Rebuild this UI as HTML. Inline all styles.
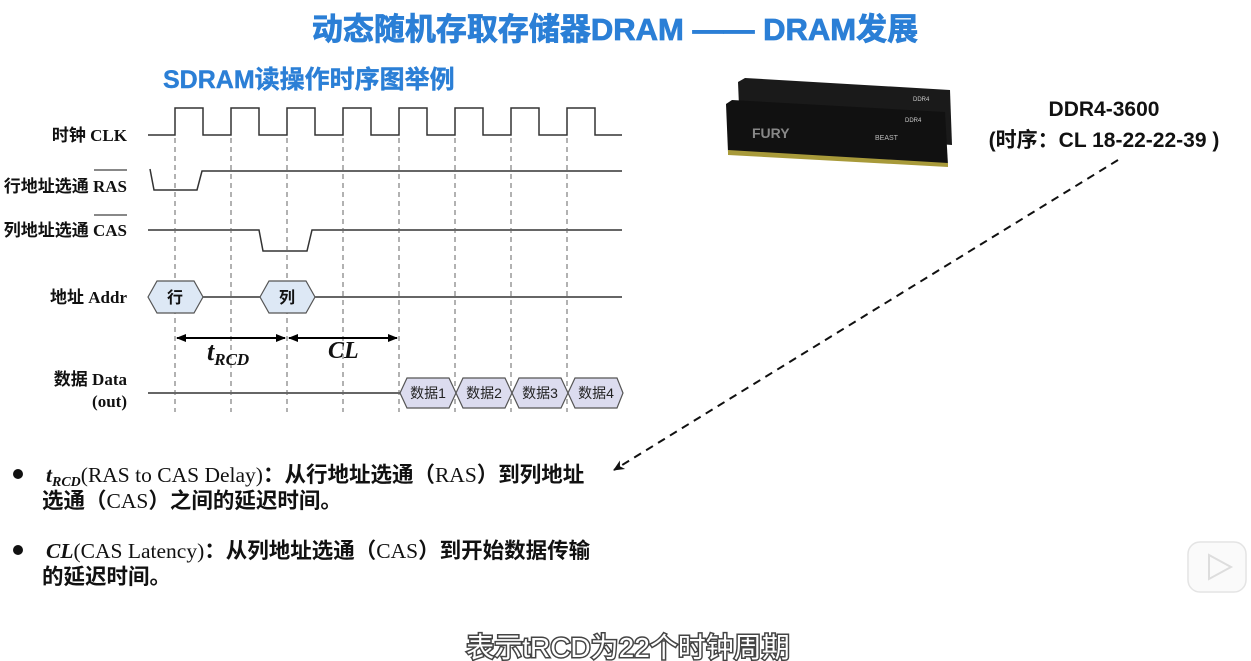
<!DOCTYPE html>
<html><head><meta charset="utf-8"><style>
html,body{margin:0;padding:0;background:#fff;}
body{width:1251px;height:661px;overflow:hidden;position:relative;font-family:"Liberation Sans","Noto Sans CJK SC",sans-serif;}
</style></head><body>
<svg width="1251" height="661" viewBox="0 0 1251 661" xmlns="http://www.w3.org/2000/svg" style="position:absolute;left:0;top:0">
<defs>
<marker id="ah" markerWidth="10" markerHeight="10" refX="9" refY="5" orient="auto" markerUnits="userSpaceOnUse"><path d="M0,1 L10,5 L0,9 Z" fill="#000"/></marker>
<marker id="ah2" markerWidth="12" markerHeight="12" refX="10" refY="6" orient="auto" markerUnits="userSpaceOnUse"><path d="M0,1 L11,6 L0,11 L3,6 Z" fill="#111"/></marker>
</defs>
<text x="615" y="40" text-anchor="middle" font-size="31" font-weight="bold" fill="#2b7fd6" stroke="#2b7fd6" stroke-width="0.8" font-family="Liberation Sans,Noto Sans CJK SC,sans-serif">动态随机存取存储器DRAM —— DRAM发展</text>
<text x="163" y="88" font-size="25" font-weight="bold" fill="#2b7fd6" stroke="#2b7fd6" stroke-width="0.4" font-family="Liberation Sans,Noto Sans CJK SC,sans-serif">SDRAM读操作时序图举例</text>

<g font-family="Liberation Serif,Noto Sans CJK SC,serif" font-weight="bold" font-size="17" fill="#111" text-anchor="end">
<text x="127" y="141">时钟 CLK</text>
<text x="127" y="192">行地址选通 RAS</text>
<text x="127" y="236">列地址选通 CAS</text>
<text x="127" y="303">地址 Addr</text>
<text x="127" y="385">数据 Data</text>
<text x="127" y="407">(out)</text>
</g>
<line x1="94" y1="170" x2="127" y2="170" stroke="#111" stroke-width="1"/>
<line x1="94" y1="215" x2="127" y2="215" stroke="#111" stroke-width="1"/>

<g stroke="#333" stroke-width="1.5" fill="none">
<path d="M148,135 H175 V108 H203 V135 H231 V108 H259 V135 H287 V108 H315 V135 H343 V108 H371 V135 H399 V108 H427 V135 H455 V108 H483 V135 H511 V108 H539 V135 H567 V108 H595 V135 H622"/>
<path d="M150,169 L154,190 H197 L202,171 H622"/>
<path d="M148,230 H259 L263,251 H307 L312,230 H622"/>
<path d="M203,297 H260 M315,297 H622"/>
<path d="M148,393 H400"/>
</g>
<g stroke="#666" stroke-width="1" stroke-dasharray="5,4">
<line x1="175" y1="138" x2="175" y2="412"/><line x1="231" y1="138" x2="231" y2="412"/>
<line x1="287" y1="138" x2="287" y2="412"/><line x1="343" y1="138" x2="343" y2="412"/>
<line x1="399" y1="138" x2="399" y2="412"/><line x1="455" y1="138" x2="455" y2="412"/>
<line x1="511" y1="138" x2="511" y2="412"/><line x1="567" y1="138" x2="567" y2="412"/>
</g>
<g stroke="#555" stroke-width="1.2" fill="#dde8f5">
<polygon points="148,297 157,281 194,281 203,297 194,313 157,313"/>
<polygon points="260,297 269,281 306,281 315,297 306,313 269,313"/>
</g>
<g font-size="16" font-weight="bold" fill="#111" text-anchor="middle" font-family="Noto Sans CJK SC,sans-serif">
<text x="175" y="303">行</text><text x="287" y="303">列</text>
</g>
<g stroke="#555" stroke-width="1.2" fill="#dcdcef">
<polygon points="400,393 407,378 449,378 456,393 449,408 407,408"/>
<polygon points="456,393 463,378 505,378 512,393 505,408 463,408"/>
<polygon points="512,393 519,378 561,378 568,393 561,408 519,408"/>
<polygon points="568,393 575,378 617,378 623,393 617,408 575,408"/>
</g>
<g font-size="14" fill="#222" text-anchor="middle" font-family="Liberation Sans,Noto Sans CJK SC,sans-serif">
<text x="428" y="398">数据1</text><text x="484" y="398">数据2</text><text x="540" y="398">数据3</text><text x="596" y="398">数据4</text>
</g>
<g stroke="#000" stroke-width="2">
<line x1="185" y1="338" x2="285" y2="338" marker-end="url(#ah)"/>
<line x1="277" y1="338" x2="177" y2="338" marker-end="url(#ah)"/>
<line x1="297" y1="338" x2="397" y2="338" marker-end="url(#ah)"/>
<line x1="389" y1="338" x2="289" y2="338" marker-end="url(#ah)"/>
</g>
<text x="207" y="360" font-family="Liberation Serif,serif" font-style="italic" font-weight="bold" font-size="26" fill="#111">t<tspan font-size="17" dy="5">RCD</tspan></text>
<text x="328" y="358" font-family="Liberation Serif,serif" font-style="italic" font-weight="bold" font-size="24" fill="#111">CL</text>

<!-- RAM sticks -->
<g>
<path d="M738,82 L745,78 L950,90 L952,145 L740,130 Z" fill="#1a1a1a"/>
<path d="M726,104 L732,100 L945,112 L948,165 L728,152 Z" fill="#111"/>
<path d="M728,150 L948,163 L948,167 L728,155 Z" fill="#a89a3a"/>
<text x="752" y="138" font-size="14" font-weight="bold" fill="#888" font-family="Liberation Sans,sans-serif">FURY</text>
<text x="875" y="140" font-size="7" fill="#bbb" font-family="Liberation Sans,sans-serif">BEAST</text>
<text x="905" y="122" font-size="6" fill="#ccc" font-family="Liberation Sans,sans-serif">DDR4</text>
<text x="913" y="101" font-size="6" fill="#ccc" font-family="Liberation Sans,sans-serif">DDR4</text>
</g>
<g font-family="Liberation Sans,Noto Sans CJK SC,sans-serif" font-weight="bold" font-size="21" fill="#111" text-anchor="middle">
<text x="1104" y="116">DDR4-3600</text>
<text x="1104" y="147">(时序：CL 18-22-22-39 )</text>
</g>
<line x1="1118" y1="160" x2="614" y2="470" stroke="#111" stroke-width="2" stroke-dasharray="8,6" marker-end="url(#ah2)"/>

<g fill="#111"><circle cx="18" cy="474" r="5"/><circle cx="18" cy="550" r="5"/></g>
<g font-family="Liberation Serif,Noto Sans CJK SC,serif" font-weight="bold" font-size="21.5" fill="#111">
<text x="46" y="482"><tspan font-style="italic">t</tspan><tspan font-style="italic" font-size="14" dy="4">RCD</tspan><tspan dy="-4" font-weight="normal">(RAS to CAS Delay)</tspan>：从行地址选通（<tspan font-weight="normal">RAS</tspan>）到列地址</text>
<text x="42" y="508">选通（<tspan font-weight="normal">CAS</tspan>）之间的延迟时间。</text>
<text x="46" y="558"><tspan font-style="italic">CL</tspan><tspan font-weight="normal">(CAS Latency)</tspan>：从列地址选通（<tspan font-weight="normal">CAS</tspan>）到开始数据传输</text>
<text x="42" y="584">的延迟时间。</text>
</g>

<rect x="1188" y="542" width="58" height="50" rx="12" fill="#fafafa" stroke="#e4e4e4" stroke-width="1.5"/>
<path d="M1209,555 L1231,567 L1209,579 Z" fill="none" stroke="#ddd" stroke-width="2"/>

<text x="628" y="657" text-anchor="middle" font-size="28" fill="#fff" stroke="#444" stroke-width="3" paint-order="stroke" font-family="Liberation Sans,Noto Sans CJK SC,sans-serif">表示tRCD为22个时钟周期</text>
</svg>
</body></html>
